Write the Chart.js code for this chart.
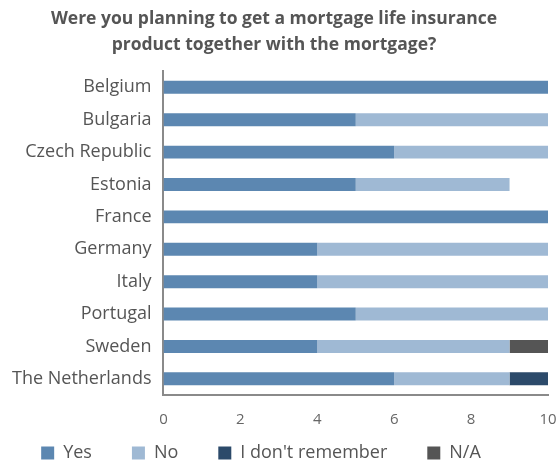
<!DOCTYPE html>
<html>
<head>
<meta charset="utf-8">
<script src="https://cdn.jsdelivr.net/npm/chart.js@4"></script>
<style>
  body { margin: 0; background: #fff; }
  #wrap { width: 556px; height: 461px; }
</style>
</head>
<body>
<div id="wrap"><canvas id="chart"></canvas></div>
<script>
const countries = ["Belgium", "Bulgaria", "Czech Republic", "Estonia", "France", "Germany", "Italy", "Portugal", "Sweden", "The Netherlands"]
const yesValues = [10, 5, 6, 5, 10, 4, 4, 5, 4, 6]
const noValues = [0, 5, 4, 4, 0, 6, 6, 5, 5, 3]
const dontRememberValues = [0, 0, 0, 0, 0, 0, 0, 0, 0, 1]
const naValues = [0, 0, 0, 0, 0, 0, 0, 0, 1, 0]
const xTicks = [0, 2, 4, 6, 8, 10]

// legend keeps wide gaps between items but only reserves a thin strip at the bottom
const legendSpacing = {
  id: "legendSpacing",
  beforeInit(chart) {
    const originalFit = chart.legend.fit
    chart.legend.fit = function () {
      originalFit.call(this)
      this.height = 16
    }
  },
  afterLayout(chart) {
    chart.legend.top = 404
    chart.legend.left -= 13
    chart.legend.right -= 13
  },
}

const ctx = document.getElementById("chart").getContext("2d")
new Chart(ctx, {
  type: "bar",
  data: {
    labels: countries,
    datasets: [
      { label: "Yes", data: yesValues, backgroundColor: "#5c87b1" },
      { label: "No", data: noValues, backgroundColor: "#9fb9d4" },
      { label: "I don't remember", data: dontRememberValues, backgroundColor: "#2c4a6a" },
      { label: "N/A", data: naValues, backgroundColor: "#555555" },
    ],
  },
  plugins: [legendSpacing],
  options: {
    indexAxis: "y",
    responsive: true,
    maintainAspectRatio: false,
    animation: false,
    datasets: { bar: { barPercentage: 0.4, categoryPercentage: 1 } },
    layout: { padding: { left: 0, right: 8, top: 0, bottom: 0 } },
    scales: {
      x: {
        stacked: true,
        min: 0,
        max: 10,
        afterBuildTicks: (axis) => { axis.ticks = xTicks.map((v) => ({ value: v })) },
        afterFit: (axis) => { axis.paddingRight = 0 },
        grid: { display: false, drawTicks: false },
        border: { display: true, color: "#8a8a8a", width: 2 },
        ticks: { color: "#666", font: { family: "Open Sans", size: 15 }, padding: 16 },
      },
      y: {
        stacked: true,
        grid: { display: false, drawTicks: false },
        border: { display: true, color: "#8a8a8a", width: 2 },
        ticks: { color: "#555", font: { family: "Open Sans", size: 18 }, padding: 12 },
      },
    },
    plugins: {
      title: {
        display: true,
        text: ["Were you planning to get a mortgage life insurance", "product together with the mortgage?"],
        color: "#555",
        font: { family: "Open Sans", size: 17.5, weight: "bold", lineHeight: 1.49 },
        padding: { top: 6, bottom: 13 },
      },
      legend: {
        position: "bottom",
        labels: {
          color: "#555",
          font: { family: "Open Sans", size: 18 },
          boxWidth: 13,
          boxHeight: 13,
          padding: 40,
        },
      },
      tooltip: { enabled: false },
    },
  },
})
</script>
</body>
</html>
